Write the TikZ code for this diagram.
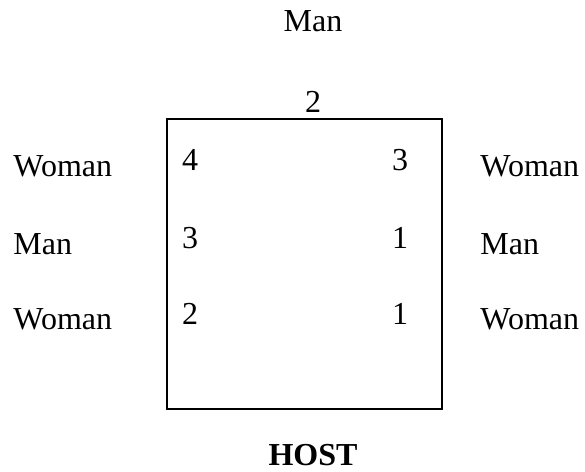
\documentclass[tikz,border=0pt]{standalone}
\usepackage{fontspec}
\setmainfont{Liberation Serif}
\tikzset{lbl/.style={inner sep=0pt,font=\fontsize{16}{19}\selectfont},
num/.style={lbl}}
\begin{document}
\begin{tikzpicture}[x=0.5pt,y=-0.5pt]
\useasboundingbox (0,0) rectangle (585,472);
\draw [line width=1.1pt] (167,119) rectangle (442,409);
\node[lbl] (mtop) at (313,21) {Man};
\node[num] (ntop) at (313,102) {2};
\node[lbl,anchor=west] (wl1) at (13,166) {Woman};
\node[lbl,anchor=west] (ml)  at (13,244) {Man};
\node[lbl,anchor=west] (wl2) at (13,319) {Woman};
\node[num] (nl1) at (190,160) {4};
\node[num] (nl2) at (190,238) {3};
\node[num] (nl3) at (190,314) {2};
\node[num] (nr1) at (400,160) {3};
\node[num] (nr2) at (400,238) {1};
\node[num] (nr3) at (400,314) {1};
\node[lbl,anchor=west] (wr1) at (480,166) {Woman};
\node[lbl,anchor=west] (mr)  at (480,244) {Man};
\node[lbl,anchor=west] (wr2) at (480,319) {Woman};
\node[lbl,font=\fontsize{16}{19}\selectfont\bfseries] (host) at (313,455) {HOST};
\end{tikzpicture}
\end{document}
